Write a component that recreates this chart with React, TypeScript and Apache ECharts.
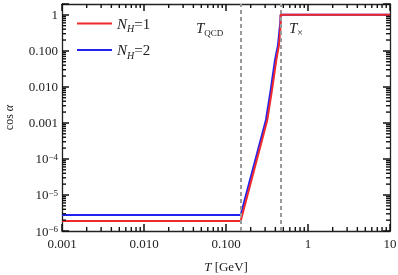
import React, { useEffect, useRef } from "react";
import * as echarts from "echarts";

// ---- data ----
const redT = [0.001, 0.151, 0.319, 0.364, 0.411, 0.443, 0.459, 0.464, 0.464, 10];
const redCos = [1.9e-6, 1.9e-6, 1.21e-3, 8.3e-3, 0.056, 0.147, 0.383, 0.6, 1, 1];
const blueT = [0.001, 0.151, 0.307, 0.351, 0.396, 0.431, 0.449, 0.46, 0.464, 10];
const blueCos = [2.78e-6, 2.78e-6, 1.21e-3, 8.3e-3, 0.056, 0.147, 0.383, 0.6, 1, 1];
const seriesNames = ["N_H=1", "N_H=2"];
const vLines = [0.151, 0.464];

const xMin = 0.001;
const xMax = 10;
const yMin = 1e-6;
const yMax = 2;
const xTickValues = [0.001, 0.01, 0.1, 1, 10];
const xTickLabels = ["0.001", "0.010", "0.100", "1", "10"];
const yTickValues = [1, 0.1, 0.01, 0.001, 1e-4, 1e-5, 1e-6];
const yTickLabels = ["1", "0.100", "0.010", "0.001", "10{sup|−4}", "10{sup|−5}", "10{sup|−6}"];
const xDecades = [-3, -2, -1, 0];
const yDecades = [-6, -5, -4, -3, -2, -1];
const minorMultipliers = [2, 3, 4, 5, 6, 7, 8, 9];

const FONT = "Liberation Serif";

function labelFor(values: number[], labels: string[], v: number) {
  for (let i = 0; i < values.length; i++) {
    if (Math.abs(Math.log10(v) - Math.log10(values[i])) < 1e-6) return labels[i];
  }
  return "";
}

export default function App() {
  const ref = useRef<HTMLDivElement>(null);
  useEffect(() => {
    if (!ref.current) return;
    const chart = echarts.init(ref.current, undefined, { renderer: "svg" });

    const xMinorData: number[][] = [];
    xDecades.forEach((d) =>
      minorMultipliers.forEach((m) => xMinorData.push([m * Math.pow(10, d), 1e-3]))
    );
    const yMinorData: number[][] = [];
    yDecades.forEach((d) =>
      minorMultipliers.forEach((m) => yMinorData.push([0.01, m * Math.pow(10, d)]))
    );

    const axisLine = { show: true, lineStyle: { color: "#222", width: 1.3 } };
    const axisTick = { show: true, inside: true, length: 7, lineStyle: { color: "#111", width: 1.5 } };
    const tickStyle = { stroke: "#111", lineWidth: 1.4, fill: null };
    const minorLen = 4;

    chart.setOption({
      animation: false,
      grid: { left: 62, right: 8, top: 4, bottom: 44, containLabel: false, outerBoundsMode: "none" },
      legend: {
        data: seriesNames,
        orient: "vertical",
        left: 72,
        top: 11,
        itemWidth: 35,
        itemHeight: 2,
        itemGap: 9,
        icon: "rect",
        formatter: (name: string) => "{i|N}{sub|H}{n|=" + name.slice(4) + "}",
        textStyle: {
          fontFamily: FONT,
          color: "#222",
          rich: {
            i: { fontFamily: FONT, fontSize: 15, fontStyle: "italic", lineHeight: 20, color: "#222" },
            sub: { fontFamily: FONT, fontSize: 10, fontStyle: "italic", verticalAlign: "bottom", lineHeight: 14, color: "#222" },
            n: { fontFamily: FONT, fontSize: 15, lineHeight: 20, color: "#222" },
          },
        },
      },
      xAxis: [
        {
          type: "log",
          logBase: 10,
          min: xMin,
          max: xMax,
          position: "bottom",
          axisLine,
          axisTick,
          splitLine: { show: false },
          axisLabel: {
            fontFamily: FONT,
            fontSize: 13,
            color: "#222",
            margin: 6,
            formatter: (v: number) => labelFor(xTickValues, xTickLabels, v),
          },
          name: "{i|T} [GeV]",
          nameLocation: "middle",
          nameGap: 29,
          nameTextStyle: {
            fontFamily: FONT,
            fontSize: 13,
            color: "#222",
            rich: { i: { fontFamily: FONT, fontSize: 13, fontStyle: "italic", color: "#222" } },
          },
        },
        {
          type: "log",
          logBase: 10,
          min: xMin,
          max: xMax,
          position: "top",
          axisLine,
          axisTick,
          splitLine: { show: false },
          axisLabel: { show: false },
        },
      ],
      yAxis: [
        {
          type: "log",
          logBase: 10,
          min: yMin,
          max: yMax,
          position: "left",
          axisLine,
          axisTick,
          splitLine: { show: false },
          axisLabel: {
            fontFamily: FONT,
            fontSize: 13,
            color: "#222",
            margin: 4,
            formatter: (v: number) => labelFor(yTickValues, yTickLabels, v),
            rich: {
              sup: { fontFamily: FONT, fontSize: 9, verticalAlign: "top", lineHeight: 9, padding: [0, 0, 6, 0], color: "#222" },
            },
          },
          name: "cos {i|α}",
          nameLocation: "middle",
          nameGap: 47,
          nameTextStyle: {
            fontFamily: FONT,
            fontSize: 12,
            color: "#222",
            rich: { i: { fontFamily: FONT, fontSize: 12, fontStyle: "italic", color: "#222" } },
          },
        },
        {
          type: "log",
          logBase: 10,
          min: yMin,
          max: yMax,
          position: "right",
          axisLine,
          axisTick,
          splitLine: { show: false },
          axisLabel: { show: false },
        },
      ],
      series: [
        {
          type: "custom",
          silent: true,
          clip: false,
          z: 5,
          xAxisIndex: 0,
          yAxisIndex: 0,
          encode: { x: 0, y: 1 },
          data: xMinorData,
          renderItem: (_params: any, api: any) => {
            const x = api.value(0);
            const b = api.coord([x, yMin]);
            const t = api.coord([x, yMax]);
            return {
              type: "group",
              children: [
                { type: "line", shape: { x1: b[0], y1: b[1], x2: b[0], y2: b[1] - minorLen }, style: tickStyle },
                { type: "line", shape: { x1: t[0], y1: t[1], x2: t[0], y2: t[1] + minorLen }, style: tickStyle },
              ],
            };
          },
        },
        {
          type: "custom",
          silent: true,
          clip: false,
          z: 5,
          xAxisIndex: 0,
          yAxisIndex: 0,
          encode: { x: 0, y: 1 },
          data: yMinorData,
          renderItem: (_params: any, api: any) => {
            const y = api.value(1);
            const l = api.coord([xMin, y]);
            const r = api.coord([xMax, y]);
            return {
              type: "group",
              children: [
                { type: "line", shape: { x1: l[0], y1: l[1], x2: l[0] + minorLen, y2: l[1] }, style: tickStyle },
                { type: "line", shape: { x1: r[0], y1: r[1], x2: r[0] - minorLen, y2: r[1] }, style: tickStyle },
              ],
            };
          },
        },
        {
          name: seriesNames[1],
          type: "line",
          symbol: "none",
          z: 3,
          lineStyle: { color: "#2222f0", width: 2 },
          itemStyle: { color: "#2222f0" },
          data: blueT.map((t, i) => [t, blueCos[i]]),
          markLine: {
            silent: true,
            symbol: "none",
            label: { show: false },
            lineStyle: { color: "#9a9a9a", type: [4, 3], width: 2 },
            data: vLines.map((v) => ({ xAxis: v })),
          },
        },
        {
          name: seriesNames[0],
          type: "line",
          symbol: "none",
          z: 4,
          lineStyle: { color: "#f02a2a", width: 2 },
          itemStyle: { color: "#f02a2a" },
          data: redT.map((t, i) => [t, redCos[i]]),
        },
      ],
      graphic: [
        {
          type: "text",
          left: 196,
          top: 20,
          style: {
            text: "{t|T}{s|QCD}",
            rich: {
              t: { fontFamily: FONT, fontSize: 15, fontStyle: "italic", lineHeight: 20, fill: "#222" },
              s: { fontFamily: FONT, fontSize: 9, verticalAlign: "bottom", lineHeight: 13, fill: "#222" },
            },
          },
        },
        {
          type: "text",
          left: 289,
          top: 20,
          style: {
            text: "{t|T}{s|×}",
            rich: {
              t: { fontFamily: FONT, fontSize: 15, fontStyle: "italic", lineHeight: 20, fill: "#222" },
              s: { fontFamily: FONT, fontSize: 10, verticalAlign: "bottom", lineHeight: 13, fill: "#222" },
            },
          },
        },
      ],
    });
    return () => chart.dispose();
  }, []);
  return (
    <div
      ref={ref}
      style={{ position: "fixed", left: 0, top: 0, width: 398, height: 275 }}
    />
  );
}
